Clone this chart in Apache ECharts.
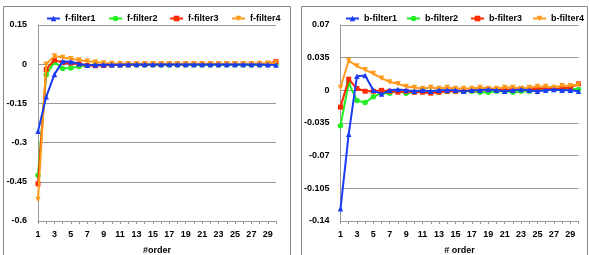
<!DOCTYPE html>
<html>
<head>
    <meta charset="utf-8">
    <title>filters</title>
    <script src="https://cdn.jsdelivr.net/npm/echarts@6/dist/echarts.min.js"></script>
    <style>
        body { margin: 0; background: #fff; }
        #main { width: 590px; height: 255px; }
    </style>
</head>
<body>
<div id="main"></div>
<script>
    // x categories 1..30
    var orders = ['1','2','3','4','5','6','7','8','9','10','11','12','13','14','15','16','17','18','19','20','21','22','23','24','25','26','27','28','29','30'];

    // left chart (forward filters)
    var f1 = [-0.257,-0.125,-0.039,0.01,0.009,0.002,-0.004,-0.003,-0.002,-0.002,-0.002,-0.001,-0.001,-0.001,-0.001,-0.001,-0.001,-0.001,-0.001,-0.001,-0.001,-0.001,-0.001,-0.001,-0.001,-0.001,-0.001,-0.001,-0.002,-0.003];
    var f2 = [-0.425,-0.04,0.008,-0.016,-0.015,-0.009,-0.004,-0.003,-0.003,-0.003,-0.003,-0.003,-0.003,-0.003,-0.003,-0.003,-0.003,-0.003,-0.003,-0.003,-0.003,-0.003,-0.003,-0.003,-0.003,-0.003,-0.003,-0.003,-0.002,-0.001];
    var f3 = [-0.458,-0.02,0.016,0.006,0.004,0.001,-0.005,-0.006,-0.005,-0.003,-0.002,-0.002,-0.001,-0.001,0,0,0,0,0,0.001,0.001,0.001,0.001,0.001,0.001,0.001,0.001,0.001,0.002,0.01];
    var f4 = [-0.518,0.0,0.031,0.026,0.021,0.016,0.011,0.008,0.005,0.003,0.002,0.002,0.002,0.002,0.002,0.002,0.002,0.002,0.002,0.002,0.002,0.002,0.002,0.002,0.002,0.002,0.002,0.003,0.004,0.006];

    // right chart (backward filters)
    var b1 = [-0.127,-0.047,0.015,0.016,0.0,-0.004,0.0,0.001,0.0,-0.001,0.0,-0.001,0.0,0.0,0.0,-0.001,0.0,0.0,0.001,0.0,-0.001,0.0,0.001,0.0,-0.001,0.0,0.001,0.0,0.0,-0.001];
    var b2 = [-0.038,0.008,-0.011,-0.013,-0.007,-0.003,-0.003,-0.001,-0.003,-0.002,-0.001,-0.002,-0.002,-0.001,-0.001,-0.001,-0.001,-0.002,-0.002,-0.001,-0.001,-0.002,-0.001,-0.001,0.0,0.001,0.001,0.0,0.002,0.001];
    var b3 = [-0.018,0.012,0.002,-0.001,-0.001,0.0,-0.001,-0.002,-0.001,-0.002,-0.002,-0.003,-0.002,-0.001,-0.001,-0.001,0.0,0.0,0.001,0.001,0.001,0.001,0.002,0.001,0.002,0.002,0.002,0.002,0.003,0.007];
    var b4 = [0.003,0.032,0.026,0.022,0.018,0.013,0.009,0.007,0.004,0.003,0.002,0.003,0.002,0.003,0.002,0.002,0.002,0.003,0.002,0.002,0.003,0.003,0.002,0.003,0.004,0.004,0.003,0.005,0.005,0.006];

    var fNames = ['f-filter1','f-filter2','f-filter3','f-filter4'];
    var bNames = ['b-filter1','b-filter2','b-filter3','b-filter4'];

    var colors = ['#1a3cf5','#22ee22','#ff2a00','#ff9a1a'];
    var symbols = ['triangle','circle','rect','triangle'];
    var rotates = [0, 0, 0, 180];
    var font = 'Liberation Sans, Arial, sans-serif';

    var chart = echarts.init(document.getElementById('main'));

    function xAxis(idx, name) {
        return {
            gridIndex: idx,
            type: 'category',
            data: orders,
            boundaryGap: false,
            name: name,
            nameLocation: 'middle',
            nameGap: 25,
            nameTextStyle: { fontFamily: font, fontWeight: 'bold', fontSize: 9, color: '#000' },
            axisLine: { onZero: false, lineStyle: { color: '#999', width: 1 } },
            axisTick: { show: true, interval: 0, length: 3, lineStyle: { color: '#999' } },
            axisLabel: { interval: 1, margin: 9, fontFamily: font, fontWeight: 'bold', fontSize: 9, color: '#000' },
            splitLine: { show: false }
        };
    }

    function yAxis(idx, min, max, step) {
        return {
            gridIndex: idx,
            type: 'value',
            min: min,
            max: max,
            interval: step,
            axisLine: { show: true, lineStyle: { color: '#999', width: 1 } },
            axisTick: { show: false },
            axisLabel: {
                margin: 11, fontFamily: font, fontWeight: 'bold', fontSize: 9, color: '#000',
                formatter: function (v) { return String(+v.toFixed(3)); }
            },
            splitLine: { show: true, lineStyle: { color: '#999', width: 1 } }
        };
    }

    var legendCenters = [48, 110, 171, 233, 347, 408, 472, 534];
    var allNames = fNames.concat(bNames);
    var legends = allNames.map(function (n, i) {
        return {
            data: [n],
            left: legendCenters[i] - 7,
            top: 9,
            itemWidth: 13,
            itemHeight: 7,
            textStyle: { fontFamily: font, fontWeight: 'bold', fontSize: 9, color: '#000' }
        };
    });

    var leftData = [f1, f2, f3, f4];
    var rightData = [b1, b2, b3, b4];
    var series = [];
    [leftData, rightData].forEach(function (group, g) {
        group.forEach(function (d, i) {
            series.push({
                name: (g === 0 ? fNames : bNames)[i],
                type: 'line',
                xAxisIndex: g,
                yAxisIndex: g,
                data: d,
                symbol: symbols[i],
                symbolRotate: rotates[i],
                symbolSize: i === 2 ? 5 : 5.5,
                showSymbol: true,
                showAllSymbol: true,
                color: colors[i],
                lineStyle: { width: 2, color: colors[i] },
                itemStyle: { color: colors[i] },
                z: i === 0 ? 6 : 2 + i,
                animation: false
            });
        });
    });

    var option = {
        backgroundColor: '#fff',
        animation: false,
        graphic: [
            { type: 'rect', shape: { x: 3.5, y: 6.5, width: 287, height: 252 }, style: { fill: 'none', stroke: '#888', lineWidth: 1 } },
            { type: 'rect', shape: { x: 301.5, y: 6.5, width: 286, height: 252 }, style: { fill: 'none', stroke: '#888', lineWidth: 1 } }
        ],
        legend: legends,
        grid: [
            { left: 38, top: 25, width: 238, height: 196, outerBoundsMode: 'none' },
            { left: 340.5, top: 25, width: 238, height: 196, outerBoundsMode: 'none' }
        ],
        xAxis: [xAxis(0, '#order'), xAxis(1, '# order')],
        yAxis: [yAxis(0, -0.6, 0.15, 0.15), yAxis(1, -0.14, 0.07, 0.035)],
        series: series
    };
    chart.setOption(option);
</script>
</body>
</html>
